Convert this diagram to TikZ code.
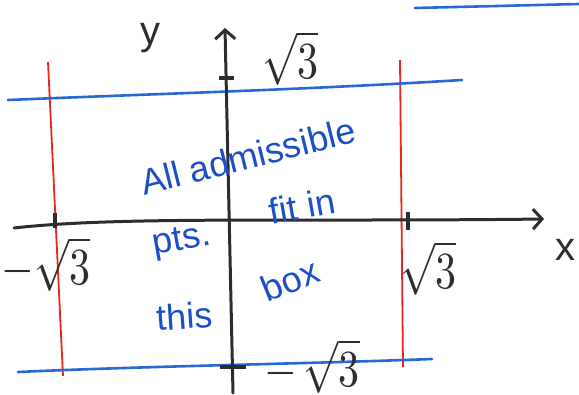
\documentclass[tikz,border=0pt]{standalone}
\usepackage{fontspec}
\setmainfont{Liberation Sans}
\usepackage{graphicx}
\usetikzlibrary{arrows.meta}
\definecolor{penblue}{RGB}{38,104,214}
\definecolor{inkblue}{RGB}{28,78,200}
\definecolor{penred}{RGB}{232,38,30}
\definecolor{penblack}{RGB}{45,45,45}
\newcommand{\bigroot}[1]{\scalebox{4.2}[5.2]{$#1$}}
\tikzset{
  axisline/.style={draw=penblack,line width=3pt,line cap=round},
  tickmark/.style={draw=penblack,line width=3.5pt},
  bluebound/.style={draw=penblue,line width=2.6pt,line cap=round},
  redbound/.style={draw=penred,line width=1.8pt},
  rootlabel/.style={text=penblack,inner sep=0pt},
  axislabel/.style={text=penblack,font=\fontsize{40}{40}\selectfont,inner sep=0pt},
  note/.style={text=inkblue,font=\fontsize{36}{36}\selectfont,inner sep=0pt},
}
\begin{document}
\begin{tikzpicture}[x=1pt,y=-1pt]
\useasboundingbox (0,0) rectangle (579,395);
% coordinates
\coordinate (xs) at (14,228);
\coordinate (xe) at (544,219);
\coordinate (ys) at (233,393);
\coordinate (ye) at (225,28);
\coordinate (tl) at (8,100);
\coordinate (tr) at (462,80);
\coordinate (bl) at (18,372);
\coordinate (br) at (432,359);
\coordinate (lt) at (48,62);
\coordinate (lb) at (63,376);
\coordinate (rt) at (400,60);
\coordinate (rb) at (403,367);
\coordinate (cl) at (415,8);
\coordinate (cr) at (579,4);
% red verticals
\draw[redbound] (lt) -- (lb);
\draw[redbound] (rt) -- (rb);
% blue bounds
\draw[bluebound] (tl) .. controls (150,94) and (300,90) .. (tr);
\draw[bluebound] (bl) .. controls (150,366) and (300,364) .. (br);
\draw[bluebound] (cl) -- (cr);
% axes
\draw[axisline,-{Straight Barb[length=9pt,width=20pt,line width=3pt]}] (xs) .. controls (120,216) and (300,222) .. (xe);
\draw[axisline,-{Straight Barb[length=9pt,width=20pt,line width=3pt]}] (ys) -- (ye);
% ticks
\draw[tickmark] (55,213) -- (55,228);
\draw[tickmark] (408,212) -- (408,230);
\draw[tickmark] (219,78) -- (234,78);
\draw[tickmark] (220,367) -- (246,367);
% labels
\node[axislabel] (ylab) at (150,38) {y};
\node[axislabel] (xlab) at (565,250) {x};
\node[rootlabel] (ytop) at (290,58) {\bigroot{\sqrt{3}}};
\node[rootlabel] (xneg) at (46,264) {\bigroot{-\sqrt{3}}};
\node[rootlabel] (xpos) at (428,268) {\bigroot{\sqrt{3}}};
\node[rootlabel] (ybot) at (312,366) {\bigroot{-\,\sqrt{3}}};
% note
\node[note,rotate=14] (n1) at (248,156) {All admissible};
\node[note,rotate=10] (n2) at (182,242) {pts.};
\node[note,rotate=10] (n3) at (302,206) {fit in};
\node[note,rotate=4] (n4) at (185,316) {this};
\node[note,rotate=22] (n5) at (290,280) {box};
\end{tikzpicture}
\end{document}
